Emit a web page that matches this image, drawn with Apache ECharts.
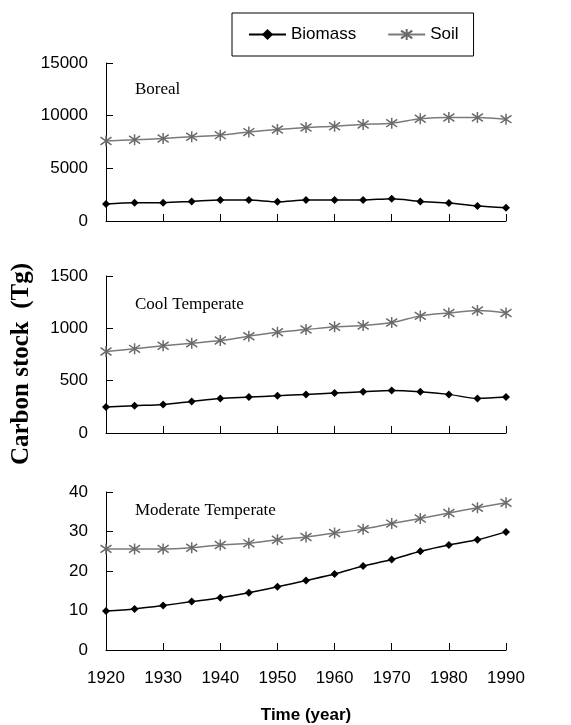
<!DOCTYPE html>
<html>
<head>
<meta charset="utf-8">
<script src="https://cdn.jsdelivr.net/npm/echarts@6/dist/echarts.min.js"></script>
<style>
  html, body { margin: 0; padding: 0; background: #fff; }
  #main { width: 571px; height: 725px; }
</style>
</head>
<body>
<div id="main"></div>
<script>
var years = [1920, 1925, 1930, 1935, 1940, 1945, 1950, 1955, 1960, 1965, 1970, 1975, 1980, 1985, 1990];

var borealBiomass = [1610, 1740, 1740, 1860, 1990, 1990, 1830, 1990, 1990, 1990, 2120, 1860, 1710, 1420, 1260];
var borealSoil = [7600, 7710, 7840, 8000, 8150, 8440, 8690, 8880, 9000, 9160, 9290, 9700, 9830, 9830, 9670];

var coolBiomass = [248, 261, 273, 302, 330, 343, 356, 369, 381, 394, 407, 394, 369, 330, 343];
var coolSoil = [779, 804, 833, 858, 883, 925, 963, 988, 1014, 1026, 1055, 1119, 1147, 1170, 1147];

var modBiomass = [9.9, 10.4, 11.25, 12.25, 13.25, 14.5, 16.0, 17.6, 19.25, 21.25, 22.9, 25.0, 26.6, 27.9, 29.9];
var modSoil = [25.6, 25.6, 25.6, 25.9, 26.6, 27.0, 27.9, 28.6, 29.6, 30.6, 32.0, 33.3, 34.7, 36.0, 37.3];

var panelNames = ['Boreal', 'Cool Temperate', 'Moderate Temperate'];
var yMax = [15000, 1500, 40];
var yStep = [5000, 500, 10];

var chart = echarts.init(document.getElementById('main'));

var asterisk = 'path://M0,1.5L10,8.5M10,1.5L0,8.5M5,0L5,10';
var gridTops = [63, 276, 492];
var gridHeights = [158, 157, 160];

function pairs(vals) {
    return years.map(function (y, i) { return [y, vals[i]]; });
}

function plain(v) {
    return String(v);
}

var grids = [], xAxes = [], yAxes = [], series = [], graphics = [];
var data = [[borealBiomass, borealSoil], [coolBiomass, coolSoil], [modBiomass, modSoil]];

for (var i = 0; i < 3; i++) {
    grids.push({ left: 106, right: 65, top: gridTops[i], height: gridHeights[i] });
    xAxes.push({
        type: 'value', gridIndex: i, min: 1920, max: 1990, interval: 10,
        axisLine: { lineStyle: { color: '#000', width: 1 } },
        axisTick: { show: true, inside: true, length: 7, lineStyle: { color: '#000' } },
        axisLabel: {
            show: i === 2, margin: 20, color: '#000', fontSize: 17,
            fontFamily: 'Liberation Sans, Arial', formatter: plain
        },
        splitLine: { show: false },
        name: i === 2 ? 'Time (year)' : '',
        nameLocation: 'middle', nameGap: 57,
        nameTextStyle: { color: '#000', fontSize: 17, fontWeight: 'bold', fontFamily: 'Liberation Sans, Arial' }
    });
    yAxes.push({
        type: 'value', gridIndex: i, min: 0, max: yMax[i], interval: yStep[i],
        axisLine: { show: true, lineStyle: { color: '#000', width: 1 } },
        axisTick: { show: true, inside: true, length: 7, lineStyle: { color: '#000' } },
        axisLabel: {
            margin: 18, color: '#000', fontSize: 17,
            fontFamily: 'Liberation Sans, Arial', formatter: plain
        },
        splitLine: { show: false }
    });
    series.push({
        name: 'Biomass', type: 'line', xAxisIndex: i, yAxisIndex: i,
        data: pairs(data[i][0]), smooth: 0.3,
        symbol: 'diamond', symbolSize: 8,
        lineStyle: { color: '#000', width: 1.5 },
        itemStyle: { color: '#000' }
    });
    series.push({
        name: 'Soil', type: 'line', xAxisIndex: i, yAxisIndex: i,
        data: pairs(data[i][1]), smooth: 0.3,
        symbol: asterisk, symbolSize: 11,
        lineStyle: { color: '#7a7a7a', width: 1.5 },
        itemStyle: { color: 'transparent', borderColor: '#6a6a6a', borderWidth: 1.5 }
    });
    graphics.push({
        type: 'text', left: 135, top: gridTops[i] + [18, 20, 10][i],
        style: { text: panelNames[i], fill: '#000', font: '17px "Liberation Serif", "Times New Roman", serif' }
    });
}

graphics.push({
    type: 'text', x: 22, y: 364, rotation: Math.PI / 2,
    style: {
        text: 'Carbon stock  (Tg)', fill: '#000',
        font: 'bold 25px "Liberation Serif", "Times New Roman", serif',
        align: 'center', verticalAlign: 'middle'
    }
});

var option = {
    backgroundColor: '#fff',
    animation: false,
    legend: {
        left: 232, top: 13,
        padding: [13, 15, 13, 16],
        borderColor: '#000', borderWidth: 1,
        itemWidth: 37, itemHeight: 14, itemGap: 31,
        textStyle: { color: '#000', fontSize: 17, fontFamily: 'Liberation Sans, Arial' },
        data: ['Biomass', 'Soil']
    },
    grid: grids,
    xAxis: xAxes,
    yAxis: yAxes,
    series: series,
    graphic: graphics
};

chart.setOption(option);
window.onresize = chart.resize;
</script>
</body>
</html>
